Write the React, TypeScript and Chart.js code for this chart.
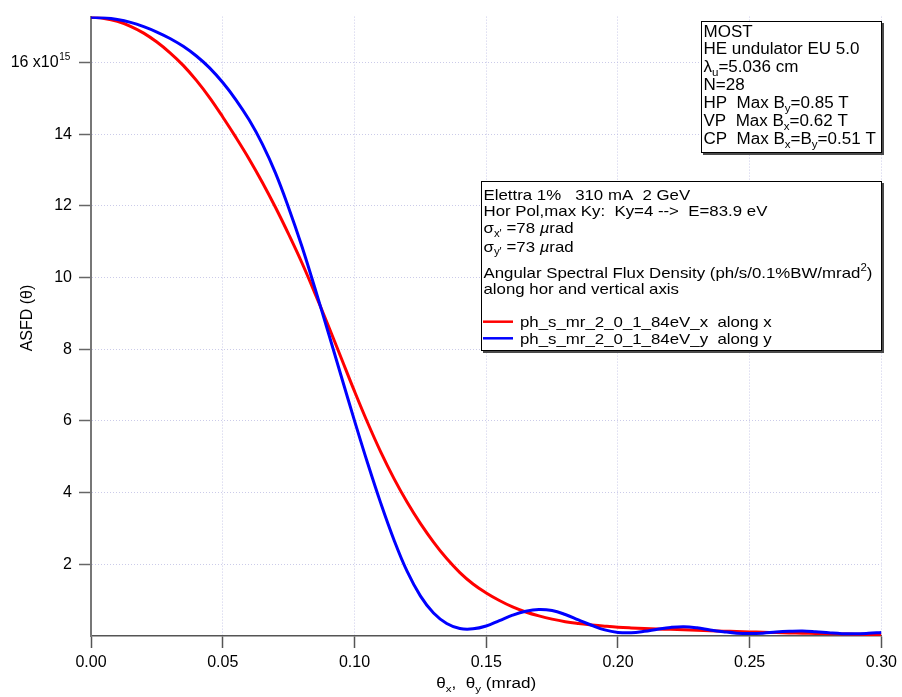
import React, { useEffect, useRef } from "react";
import { Chart, registerables } from "chart.js";

Chart.register(...registerables);

// ---------- data (ASFD in units of 1e15 ph/s/0.1%BW/mrad^2) ----------
const thetaMrad = [
  0.0, 0.005, 0.01, 0.015, 0.02, 0.025, 0.03, 0.035, 0.04, 0.045,
  0.05, 0.055, 0.06, 0.065, 0.07, 0.075, 0.08, 0.085, 0.09, 0.095,
  0.1, 0.105, 0.11, 0.115, 0.12, 0.125, 0.13, 0.135, 0.14, 0.145,
  0.15, 0.155, 0.16, 0.165, 0.17, 0.175, 0.18, 0.185, 0.19, 0.195,
  0.2, 0.205, 0.21, 0.215, 0.22, 0.225, 0.23, 0.235, 0.24, 0.245,
  0.25, 0.255, 0.26, 0.265, 0.27, 0.275, 0.28, 0.285, 0.29, 0.295, 0.3,
];

const asfdAlongX = [
  17.26, 17.23, 17.15, 17.01, 16.82, 16.57, 16.27, 15.92, 15.5, 15.02,
  14.48, 13.91, 13.31, 12.66, 11.96, 11.21, 10.42, 9.56, 8.67, 7.75,
  6.83, 5.95, 5.13, 4.39, 3.73, 3.14, 2.62, 2.16, 1.77, 1.45,
  1.2, 0.99, 0.81, 0.67, 0.56, 0.47, 0.4, 0.35, 0.31, 0.275,
  0.245, 0.225, 0.21, 0.197, 0.185, 0.172, 0.16, 0.148, 0.136, 0.125,
  0.115, 0.105, 0.095, 0.087, 0.079, 0.071, 0.064, 0.057, 0.051, 0.045, 0.04,
];

const asfdAlongY = [
  17.26, 17.245, 17.2, 17.12, 17.0, 16.85, 16.67, 16.45, 16.18, 15.85,
  15.44, 14.96, 14.4, 13.73, 12.92, 11.95, 10.88, 9.7, 8.48, 7.24,
  6.01, 4.82, 3.7, 2.68, 1.8, 1.12, 0.64, 0.35, 0.21, 0.2,
  0.28, 0.43, 0.58, 0.69, 0.74, 0.71, 0.6, 0.45, 0.3, 0.17,
  0.1, 0.09, 0.13, 0.19, 0.24, 0.26, 0.23, 0.17, 0.12, 0.08,
  0.07, 0.08, 0.11, 0.13, 0.14, 0.12, 0.09, 0.065, 0.06, 0.075, 0.1,
];

const xTicks = [0, 0.05, 0.1, 0.15, 0.2, 0.25, 0.3];
const yTicks = [2, 4, 6, 8, 10, 12, 14, 16];
const seriesNames = ["ph_s_mr_2_0_1_84eV_x  along x", "ph_s_mr_2_0_1_84eV_y  along y"];
const seriesColors = ["#ff0000", "#0000ff"];

type Seg = [string, string?];

const box1Lines: Seg[][] = [
  [["MOST"]],
  [["HE undulator EU 5.0"]],
  [["λ"], ["u", "sub"], ["=5.036 cm"]],
  [["N=28"]],
  [["HP  Max B"], ["y", "sub"], ["=0.85 T"]],
  [["VP  Max B"], ["x", "sub"], ["=0.62 T"]],
  [["CP  Max B"], ["x", "sub"], ["=B"], ["y", "sub"], ["=0.51 T"]],
];

const box2Lines: Seg[][] = [
  [["Elettra 1%   310 mA  2 GeV"]],
  [["Hor Pol,max Ky:  Ky=4 -->  E=83.9 eV"]],
  [["σ"], ["x'", "sub"], [" =78 "], ["µ", "i"], ["rad"]],
  [["σ"], ["y'", "sub"], [" =73 "], ["µ", "i"], ["rad"]],
  [["Angular Spectral Flux Density (ph/s/0.1%BW/mrad"], ["2", "sup"], [")"]],
  [["along hor and vertical axis"]],
];

const FONT = '"Liberation Sans", Arial, Helvetica, sans-serif';

function segWidth(ctx: CanvasRenderingContext2D, segs: Seg[], size: number) {
  let w = 0;
  for (const [t, k] of segs) {
    const fs = k === "sub" || k === "sup" ? size * 0.68 : size;
    ctx.font = `${k === "i" ? "italic " : ""}${fs}px ${FONT}`;
    w += ctx.measureText(t).width;
  }
  return w;
}

function drawRich(
  ctx: CanvasRenderingContext2D,
  segs: Seg[],
  x: number,
  y: number,
  size: number,
  sx: number
) {
  ctx.save();
  ctx.translate(x, y);
  ctx.scale(sx, 1);
  ctx.textAlign = "left";
  ctx.textBaseline = "alphabetic";
  ctx.fillStyle = "#000";
  let cx = 0;
  for (const [t, k] of segs) {
    const fs = k === "sub" || k === "sup" ? size * 0.68 : size;
    ctx.font = `${k === "i" ? "italic " : ""}${fs}px ${FONT}`;
    const dy = k === "sub" ? size * 0.25 : k === "sup" ? -size * 0.45 : 0;
    ctx.fillText(t, cx, dy);
    cx += ctx.measureText(t).width;
  }
  ctx.restore();
}

function drawBox(ctx: CanvasRenderingContext2D, x0: number, y0: number, x1: number, y1: number) {
  ctx.save();
  ctx.fillStyle = "#4a4a4a";
  ctx.fillRect(x0 + 2, y0 + 2, x1 - x0, y1 - y0);
  ctx.fillStyle = "#fff";
  ctx.fillRect(x0, y0, x1 - x0, y1 - y0);
  ctx.strokeStyle = "#000";
  ctx.lineWidth = 1;
  ctx.strokeRect(x0 + 0.5, y0 + 0.5, x1 - x0 - 1, y1 - y0 - 1);
  ctx.restore();
}

const TICK_FONT = 16;

const decorPlugin = {
  id: "decor",
  afterDraw(chart: any) {
    const ctx: CanvasRenderingContext2D = chart.ctx;
    const xs = chart.scales.x;
    const ys = chart.scales.y;
    const area = chart.chartArea;

    // superscript exponent on top tick label
    ctx.save();
    ctx.font = `${TICK_FONT}px ${FONT}`;
    const spaceW = ctx.measureText("   ").width;
    const labelRight = area.left - 12 - 7;
    const py = ys.getPixelForValue(16);
    ctx.font = `10px ${FONT}`;
    ctx.fillStyle = "#000";
    ctx.textAlign = "left";
    ctx.textBaseline = "alphabetic";
    ctx.fillText("15", labelRight - spaceW + 0.5, py - 2.5);
    ctx.restore();

    // y title
    ctx.save();
    ctx.translate(32, 318);
    ctx.rotate(-Math.PI / 2);
    ctx.font = `16px ${FONT}`;
    ctx.fillStyle = "#000";
    ctx.textAlign = "center";
    ctx.textBaseline = "alphabetic";
    ctx.fillText("ASFD (θ)", 0, 0);
    ctx.restore();

    // x title
    const xt: Seg[] = [["θ"], ["x", "sub"], [",  θ"], ["y", "sub"], [" (mrad)"]];
    const tw = segWidth(ctx, xt, 14);
    const tsx = 100 / tw;
    const cxMid = (xs.left + xs.right) / 2;
    drawRich(ctx, xt, cxMid - 50, 688, 14, tsx);

    // box 1
    drawBox(ctx, 701, 21, 882, 153);
    const b1w = segWidth(ctx, box1Lines[1], 16);
    const b1sx = 156 / b1w;
    box1Lines.forEach((l, i) => drawRich(ctx, l, 703.5, 36.5 + i * 17.9, 16, b1sx));

    // box 2
    drawBox(ctx, 481, 181, 882, 351);
    const b2w = segWidth(ctx, box2Lines[0], 15);
    const b2sx = 206.7 / b2w;
    const b2y = [199.5, 216.2, 232.8, 251.5, 277.5, 294.2];
    box2Lines.forEach((l, i) => drawRich(ctx, l, 483.5, b2y[i], 15, b2sx));
    const legY = [321.7, 338.3];
    seriesNames.forEach((name, i) => {
      ctx.save();
      ctx.strokeStyle = seriesColors[i];
      ctx.lineWidth = 2.5;
      ctx.beginPath();
      ctx.moveTo(483, legY[i]);
      ctx.lineTo(513, legY[i]);
      ctx.stroke();
      ctx.restore();
      drawRich(ctx, [[name]], 520, legY[i] + 5.5, 15, b2sx);
    });
  },
};

export default function App() {
  const ref = useRef<HTMLCanvasElement | null>(null);
  useEffect(() => {
    if (!ref.current) return;
    const mk = (vals: number[]) => thetaMrad.map((x, i) => ({ x, y: vals[i] }));
    const chart = new Chart(ref.current, {
      type: "line",
      data: {
        datasets: [
          {
            label: seriesNames[0],
            data: mk(asfdAlongX),
            borderColor: seriesColors[0],
            borderWidth: 3,
            pointRadius: 0,
            tension: 0.4,
            fill: false,
            order: 1,
          },
          {
            label: seriesNames[1],
            data: mk(asfdAlongY),
            borderColor: seriesColors[1],
            borderWidth: 3,
            pointRadius: 0,
            tension: 0.4,
            fill: false,
            order: 0,
          },
        ],
      },
      options: {
        animation: false,
        responsive: false,
        devicePixelRatio: 1,
        layout: { padding: { left: 0, right: 19, top: 14, bottom: 0 } },
        plugins: {
          legend: { display: false },
          tooltip: { enabled: false },
        },
        scales: {
          x: {
            type: "linear",
            min: 0,
            max: 0.3,
            afterFit: (s: any) => {
              s.height = 61;
            },
            afterBuildTicks: (s: any) => {
              s.ticks = xTicks.map((v) => ({ value: v }));
            },
            ticks: {
              autoSkip: false,
              maxRotation: 0,
              padding: 5,
              color: "#000",
              font: { family: FONT, size: TICK_FONT },
              callback: (v: any) => Number(v).toFixed(2),
            },
            grid: {
              color: "rgba(185,185,225,0.75)",
              lineWidth: 1,
              tickColor: "#555",
              tickLength: 12,
              tickWidth: 1.5,
            },
            border: { color: "#555", width: 1.5, dash: [1, 2] },
          },
          y: {
            type: "linear",
            min: 0,
            max: 17.28,
            afterFit: (s: any) => {
              s.width = 91;
            },
            afterBuildTicks: (s: any) => {
              s.ticks = yTicks.map((v) => ({ value: v }));
            },
            ticks: {
              padding: 7,
              color: "#000",
              font: { family: FONT, size: TICK_FONT },
              callback: (v: any) => (Number(v) === 16 ? "16 x10   " : String(v)),
            },
            grid: {
              color: "rgba(185,185,225,0.75)",
              lineWidth: 1,
              tickColor: "#666",
              tickLength: 12,
              tickWidth: 1.5,
            },
            border: { color: "#777", width: 2, dash: [1, 2] },
          },
        },
      },
      plugins: [decorPlugin],
    });
    return () => chart.destroy();
  }, []);
  return (
    <div style={{ position: "fixed", left: 0, top: 0, width: 902, height: 697, background: "#fff" }}>
      <canvas ref={ref} width={902} height={697} style={{ display: "block" }} />
    </div>
  );
}
